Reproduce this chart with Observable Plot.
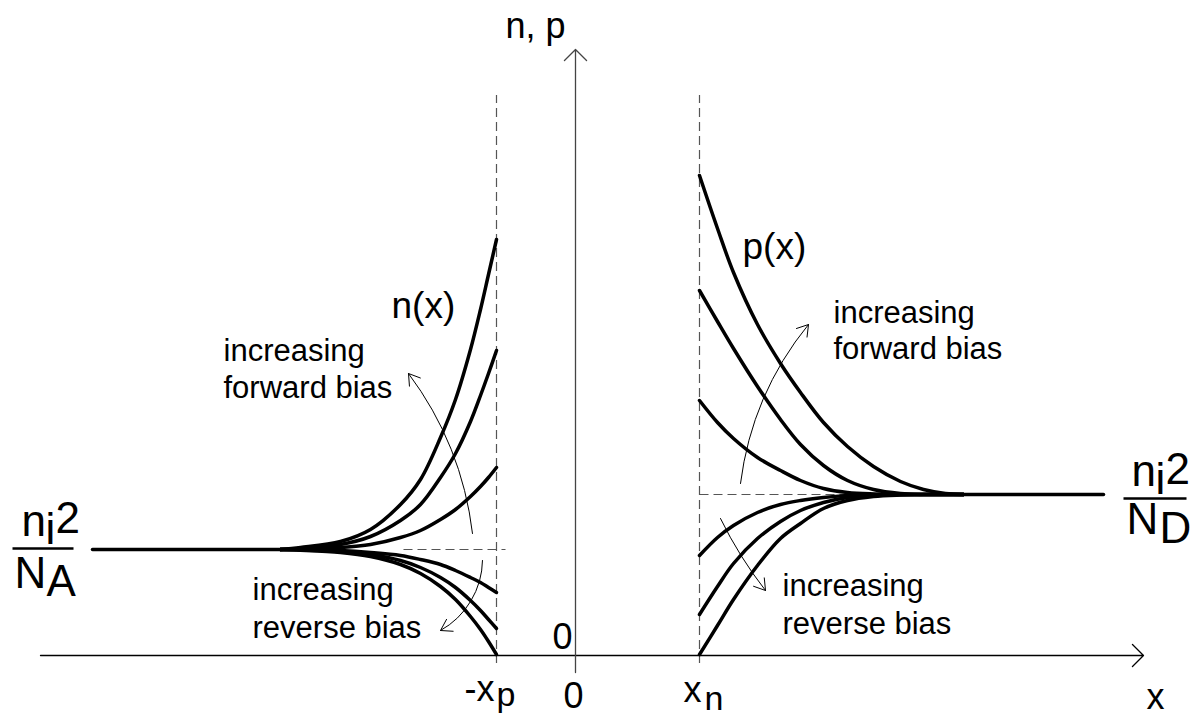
<!DOCTYPE html>
<html>
<head>
<meta charset="utf-8">
<script src="https://cdn.jsdelivr.net/npm/d3@7"></script>
<script src="https://cdn.jsdelivr.net/npm/@observablehq/plot@0.6"></script>
<style>
  html, body { margin: 0; padding: 0; background: #fff; overflow: hidden; }
  #chart svg { display: block; }
</style>
</head>
<body>
<div id="chart"></div>
<script>
// ---- Data (x in units of the diagram, 0 = junction; y = carrier concentration, 0 = baseline)
const xp = 0.79;          // -x_p edge of depletion region
const xn = 1.24;          // x_n edge of depletion region
const nEquilibrium = 1.06; // ni^2/NA level
const pEquilibrium = 1.61; // ni^2/ND level

// p-side (left): minority electrons n(x)
const leftX = [-2.95, -2.75, -2.35, -2.05, -1.75, -1.55, -1.35, -1.20, -1.05, -0.95, -0.87, -0.79];
const nForward1 = [1.06, 1.08, 1.14, 1.26, 1.51, 1.76, 2.18, 2.56, 3.06, 3.46, 3.81, 4.16];
const nForward2 = [1.06, 1.07, 1.11, 1.19, 1.35, 1.51, 1.78, 2.02, 2.34, 2.60, 2.82, 3.05];
const nForward3 = [1.06, 1.065, 1.08, 1.11, 1.18, 1.25, 1.36, 1.46, 1.59, 1.69, 1.78, 1.88];
const nReverse1 = [1.06, 1.06, 1.05, 1.03, 1.00, 0.96, 0.91, 0.85, 0.78, 0.73, 0.68, 0.63];
const nReverse2 = [1.06, 1.055, 1.04, 1.01, 0.95, 0.88, 0.78, 0.68, 0.55, 0.45, 0.36, 0.27];
const nReverse3 = [1.06, 1.053, 1.03, 0.99, 0.91, 0.82, 0.69, 0.56, 0.39, 0.26, 0.14, 0.01];
const leftFlatX = [-4.83, -2.95];

// n-side (right): minority holes p(x)
const rightX = [1.24, 1.42, 1.58, 1.82, 2.05, 2.25, 2.48, 2.72, 2.98, 3.25, 3.48, 3.70, 3.88];
const pForward1 = [4.80, 4.27, 3.83, 3.31, 2.92, 2.63, 2.33, 2.09, 1.89, 1.74, 1.66, 1.62, 1.61];
const pForward2 = [3.65, 3.34, 3.07, 2.69, 2.36, 2.11, 1.90, 1.75, 1.66, 1.62, 1.61, 1.61, 1.61];
const pForward3 = [2.55, 2.33, 2.17, 1.98, 1.85, 1.75, 1.67, 1.63, 1.615, 1.61, 1.61, 1.61, 1.61];
const pReverse1 = [1.00, 1.18, 1.30, 1.43, 1.51, 1.55, 1.58, 1.60, 1.61, 1.61, 1.61, 1.61, 1.61];
const pReverse2 = [0.41, 0.69, 0.92, 1.17, 1.34, 1.45, 1.53, 1.58, 1.60, 1.61, 1.61, 1.61, 1.61];
const pReverse3 = [0.01, 0.30, 0.56, 0.90, 1.17, 1.32, 1.47, 1.55, 1.59, 1.605, 1.61, 1.61, 1.61];
const rightFlatX = [3.88, 5.28];

// ---- Annotation layout (text and arrows)
const textStart = [
  {t: "n(x)", x: -1.84, y: 3.38, s: 37},
  {t: "p(x)", x: 1.67, y: 3.97, s: 37},
  {t: "increasing", x: -3.52, y: 2.95, s: 31},
  {t: "forward bias", x: -3.52, y: 2.58, s: 31},
  {t: "increasing", x: 2.58, y: 3.33, s: 31},
  {t: "forward bias", x: 2.58, y: 2.97, s: 31},
  {t: "increasing", x: -3.23, y: 0.56, s: 31},
  {t: "reverse bias", x: -3.23, y: 0.18, s: 31},
  {t: "increasing", x: 2.07, y: 0.60, s: 31},
  {t: "reverse bias", x: 2.07, y: 0.22, s: 31},
  {t: "-x", x: -1.11, y: -0.45, s: 36},
  {t: "p", x: -0.79, y: -0.50, s: 34},
  {t: "x", x: 1.08, y: -0.46, s: 36},
  {t: "n", x: 1.29, y: -0.54, s: 34},
  // ni^2 / NA
  {t: "n", x: -5.54, y: 1.20, s: 44},
  {t: "i", x: -5.30, y: 1.12, s: 44},
  {t: "2", x: -5.20, y: 1.23, s: 44},
  {t: "N", x: -5.61, y: 0.68, s: 44},
  {t: "A", x: -5.29, y: 0.60, s: 44},
  // ni^2 / ND
  {t: "n", x: 5.56, y: 1.70, s: 44},
  {t: "i", x: 5.80, y: 1.62, s: 44},
  {t: "2", x: 5.90, y: 1.72, s: 44},
  {t: "N", x: 5.51, y: 1.22, s: 44},
  {t: "D", x: 5.84, y: 1.13, s: 44}
];
const textMiddle = [
  {t: "0", x: -0.13, y: 0.07, s: 36},
  {t: "0", x: -0.02, y: -0.52, s: 36},
  {t: "x", x: 5.80, y: -0.53, s: 36}
];
const textEnd = [
  {t: "n, p", x: -0.10, y: 6.18, s: 36}
];
const fractionBars = [
  {x1: -5.63, x2: -5.02, y: 1.07},
  {x1: 5.48, x2: 6.11, y: 1.57}
];

// ---- Build series
const zip = (xs, ys, id) => xs.map((x, i) => ({x, y: ys[i], id}));
const curves = [
  ...zip(leftX, nForward1, "nf1"), ...zip(leftX, nForward2, "nf2"), ...zip(leftX, nForward3, "nf3"),
  ...zip(leftX, nReverse1, "nr1"), ...zip(leftX, nReverse2, "nr2"), ...zip(leftX, nReverse3, "nr3"),
  ...zip(rightX, pForward1, "pf1"), ...zip(rightX, pForward2, "pf2"), ...zip(rightX, pForward3, "pf3"),
  ...zip(rightX, pReverse1, "pr1"), ...zip(rightX, pReverse2, "pr2"), ...zip(rightX, pReverse3, "pr3")
];
const flats = [
  ...leftFlatX.map(x => ({x, y: nEquilibrium, id: "L"})),
  ...rightFlatX.map(x => ({x, y: pEquilibrium, id: "R"}))
];

const font = "'Liberation Sans', Arial, Helvetica, sans-serif";
const dash = "9,5";
const textMark = (data, anchor) => Plot.text(data, {
  x: "x", y: "y", text: "t", fontSize: "s", textAnchor: anchor, lineAnchor: "bottom",
  fill: "#000", fontFamily: font
});

const chart = Plot.plot({
  width: 1193,
  height: 715,
  margin: 0,
  x: {domain: [-5.75, 6.18], axis: null},
  y: {domain: [-0.60, 6.55], axis: null},
  style: {background: "#fff", fontFamily: font},
  marks: [
    // dashed guides
    Plot.ruleX([-xp, xn], {y1: -0.08, y2: 5.60, stroke: "#555", strokeWidth: 1.2, strokeDasharray: dash}),
    Plot.link([{x1: -1.72, x2: -0.70, y: nEquilibrium}, {x1: xn, x2: 3.15, y: pEquilibrium}],
      {x1: "x1", x2: "x2", y1: "y", y2: "y", stroke: "#555", strokeWidth: 1.2, strokeDasharray: dash}),
    // axes
    Plot.arrow([{x1: -5.35, y1: 0, x2: 5.68, y2: 0}],
      {x1: "x1", y1: "y1", x2: "x2", y2: "y2", stroke: "#000", strokeWidth: 1.3, headLength: 18, headAngle: 90}),
    Plot.arrow([{x1: 0, y1: -0.17, x2: 0, y2: 6.06}],
      {x1: "x1", y1: "y1", x2: "x2", y2: "y2", stroke: "#444", strokeWidth: 1.3, headLength: 18, headAngle: 90}),
    // carrier curves
    Plot.line(flats, {x: "x", y: "y", z: "id", stroke: "#000", strokeWidth: 3.5}),
    Plot.line(curves, {x: "x", y: "y", z: "id", stroke: "#000", strokeWidth: 3.5, curve: "catmull-rom"}),
    // annotation arrows
    Plot.arrow([{x1: -1.03, y1: 1.22, x2: -1.67, y2: 2.82}], {x1: "x1", y1: "y1", x2: "x2", y2: "y2", bend: -15, stroke: "#000", strokeWidth: 1, headLength: 19, headAngle: 65}),
    Plot.arrow([{x1: -0.93, y1: 0.95, x2: -1.35, y2: 0.25}], {x1: "x1", y1: "y1", x2: "x2", y2: "y2", bend: 30, stroke: "#000", strokeWidth: 1, headLength: 19, headAngle: 65}),
    Plot.arrow([{x1: 1.65, y1: 1.72, x2: 2.33, y2: 3.31}], {x1: "x1", y1: "y1", x2: "x2", y2: "y2", bend: 16, stroke: "#000", strokeWidth: 1, headLength: 19, headAngle: 65}),
    Plot.arrow([{x1: 1.45, y1: 1.37, x2: 1.90, y2: 0.65}], {x1: "x1", y1: "y1", x2: "x2", y2: "y2", bend: -6, stroke: "#000", strokeWidth: 1, headLength: 19, headAngle: 65}),
    // fraction bars
    Plot.link(fractionBars, {x1: "x1", x2: "x2", y1: "y", y2: "y", stroke: "#000", strokeWidth: 2.5}),
    // labels
    textMark(textStart, "start"),
    textMark(textMiddle, "middle"),
    textMark(textEnd, "end")
  ]
});
document.getElementById("chart").append(chart);
</script>
</body>
</html>
